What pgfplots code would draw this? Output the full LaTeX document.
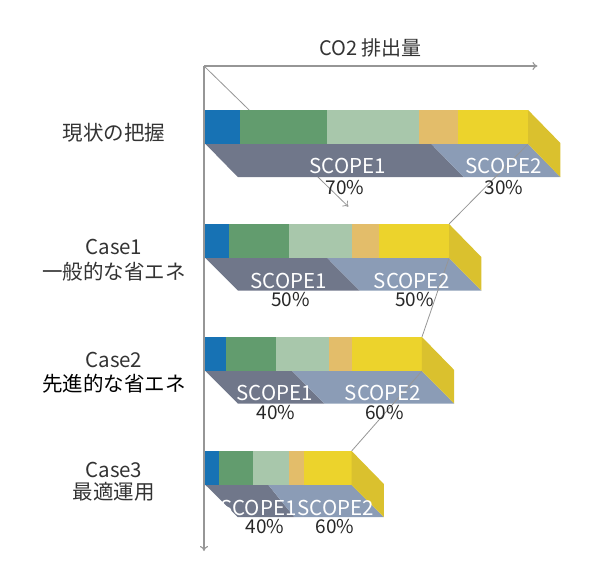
\documentclass[border=0pt]{standalone}
\usepackage{pgfplots}
\pgfplotsset{compat=1.18}
\usepackage{fontspec}
\setmainfont{Noto Sans CJK JP}
\usetikzlibrary{arrows.meta}
\definecolor{cblue}{RGB}{23,114,180}
\definecolor{cgreen}{RGB}{98,156,110}
\definecolor{clgreen}{RGB}{168,199,171}
\definecolor{corange}{RGB}{227,189,106}
\definecolor{cyellow}{RGB}{236,211,44}
\definecolor{cyside}{RGB}{218,193,46}
\definecolor{cscopea}{RGB}{112,119,138}
\definecolor{cscopeb}{RGB}{139,156,182}
\definecolor{cline}{RGB}{150,150,150}
\definecolor{ctext}{RGB}{51,51,51}
\begin{document}
\begin{tikzpicture}
\begin{axis}[width=597pt,height=582pt,scale only axis,hide axis,clip=false,
  xmin=-63.7,xmax=121.36,ymin=0,ymax=582,y dir=reverse]
\addplot[draw=none] coordinates {(-63.7,0) (121.36,582)};
% axes
\addplot[cline,line width=1.1pt,-{To[length=5pt,width=8pt]}] coordinates {(-0.46,66) (102.9,66)};
\addplot[cline,line width=1.1pt,-{To[length=5pt,width=8pt]}] coordinates {(-0.46,66) (-0.46,551)};
% origin line
\addplot[cline,line width=0.8pt,-{To[length=5pt,width=8pt]}] coordinates {(-0.46,66) (44.3,206.7)};
% ---------- Bar 1 ----------
\addplot[fill=cblue,draw=none] coordinates {(0,110) (10.6,110) (10.6,144) (0,144)} --cycle;
\addplot[fill=cgreen,draw=none] coordinates {(10.6,110) (37.6,110) (37.6,144) (10.6,144)} --cycle;
\addplot[fill=clgreen,draw=none] coordinates {(37.6,110) (66.2,110) (66.2,144) (37.6,144)} --cycle;
\addplot[fill=corange,draw=none] coordinates {(66.2,110) (78.4,110) (78.4,144) (66.2,144)} --cycle;
\addplot[fill=cyellow,draw=none] coordinates {(78.4,110) (100,110) (100,144) (78.4,144)} --cycle;
\addplot[fill=cscopea,draw=none] coordinates {(0,144) (70,144) (80,177) (10,177)} --cycle;
\addplot[fill=cscopeb,draw=none] coordinates {(70,144) (100,144) (110,177) (80,177)} --cycle;
\addplot[fill=cyside,draw=none] coordinates {(100,110) (110,143) (110,177) (100,144)} --cycle;
% ---------- Bar 2 ----------
\addplot[fill=cblue,draw=none] coordinates {(0,224) (7.3,224) (7.3,258) (0,258)} --cycle;
\addplot[fill=cgreen,draw=none] coordinates {(7.3,224) (25.9,224) (25.9,258) (7.3,258)} --cycle;
\addplot[fill=clgreen,draw=none] coordinates {(25.9,224) (45.4,224) (45.4,258) (25.9,258)} --cycle;
\addplot[fill=corange,draw=none] coordinates {(45.4,224) (53.8,224) (53.8,258) (45.4,258)} --cycle;
\addplot[fill=cyellow,draw=none] coordinates {(53.8,224) (75.5,224) (75.5,258) (53.8,258)} --cycle;
\addplot[fill=cscopea,draw=none] coordinates {(0,258) (37.75,258) (47.75,290.5) (10,290.5)} --cycle;
\addplot[fill=cscopeb,draw=none] coordinates {(37.75,258) (75.5,258) (85.5,290.5) (47.75,290.5)} --cycle;
\addplot[fill=cyside,draw=none] coordinates {(75.5,224) (85.5,257) (85.5,290.5) (75.5,258)} --cycle;
% ---------- Bar 3 ----------
\addplot[fill=cblue,draw=none] coordinates {(0,337) (6.3,337) (6.3,371) (0,371)} --cycle;
\addplot[fill=cgreen,draw=none] coordinates {(6.3,337) (22.0,337) (22.0,371) (6.3,371)} --cycle;
\addplot[fill=clgreen,draw=none] coordinates {(22.0,337) (38.3,337) (38.3,371) (22.0,371)} --cycle;
\addplot[fill=corange,draw=none] coordinates {(38.3,337) (45.4,337) (45.4,371) (38.3,371)} --cycle;
\addplot[fill=cyellow,draw=none] coordinates {(45.4,337) (67.1,337) (67.1,371) (45.4,371)} --cycle;
\addplot[fill=cscopea,draw=none] coordinates {(0,371) (26.84,371) (36.84,403.5) (10,403.5)} --cycle;
\addplot[fill=cscopeb,draw=none] coordinates {(26.84,371) (67.1,371) (77.1,403.5) (36.84,403.5)} --cycle;
\addplot[fill=cyside,draw=none] coordinates {(67.1,337) (77.1,370) (77.1,403.5) (67.1,371)} --cycle;
% ---------- Bar 4 ----------
\addplot[fill=cblue,draw=none] coordinates {(0,451) (4.1,451) (4.1,485) (0,485)} --cycle;
\addplot[fill=cgreen,draw=none] coordinates {(4.1,451) (14.6,451) (14.6,485) (4.1,485)} --cycle;
\addplot[fill=clgreen,draw=none] coordinates {(14.6,451) (25.9,451) (25.9,485) (14.6,485)} --cycle;
\addplot[fill=corange,draw=none] coordinates {(25.9,451) (30.6,451) (30.6,485) (25.9,485)} --cycle;
\addplot[fill=cyellow,draw=none] coordinates {(30.6,451) (45.3,451) (45.3,485) (30.6,485)} --cycle;
\addplot[fill=cscopea,draw=none] coordinates {(0,485) (19.5,485) (27.5,517) (10,517)} --cycle;
\addplot[fill=cscopeb,draw=none] coordinates {(19.5,485) (45.3,485) (55.3,517) (27.5,517)} --cycle;
\addplot[fill=cyside,draw=none] coordinates {(45.3,451) (55.3,484) (55.3,517) (45.3,485)} --cycle;
% connector zigzag
\addplot[cline,line width=0.8pt] coordinates {(100,144) (75.5,224)};
\addplot[cline,line width=0.8pt] coordinates {(75.5,258) (67.1,337)};
\addplot[cline,line width=0.8pt] coordinates {(67.1,371) (45.3,451)};
% title
\node[ctext,font=\fontsize{20}{24}\selectfont] at (axis cs:51.2,48) {CO2 排出量};
% category labels
\node[ctext,font=\fontsize{20.5}{24}\selectfont] at (axis cs:-28.4,132.5) {現状の把握};
\node[ctext,font=\fontsize{20.5}{24}\selectfont] at (axis cs:-28.4,246.5) {Case1};
\node[ctext,font=\fontsize{20.5}{24}\selectfont] at (axis cs:-28.4,271.5) {一般的な省エネ};
\node[ctext,font=\fontsize{20.5}{24}\selectfont] at (axis cs:-28.4,360) {Case2};
\node[black,font=\fontsize{20.5}{24}\selectfont] at (axis cs:-28.4,383.5) {先進的な省エネ};
\node[ctext,font=\fontsize{20.5}{24}\selectfont] at (axis cs:-28.4,469.5) {Case3};
\node[ctext,font=\fontsize{20.5}{24}\selectfont] at (axis cs:-28.4,491.5) {最適運用};
% scope labels
\tikzset{sc/.style={white,anchor=base,inner sep=0pt,font=\fontsize{20.5}{24}\selectfont},
         pc/.style={black!85,anchor=base,inner sep=0pt,font=\fontsize{19}{24}\selectfont}}
\node[sc] at (axis cs:44.1,173.3) {SCOPE1};
\node[pc] at (axis cs:43.2,194) {70\%};
\node[sc] at (axis cs:92.4,173.3) {SCOPE2};
\node[pc] at (axis cs:92.5,194) {30\%};
\node[sc] at (axis cs:25.8,288) {SCOPE1};
\node[pc] at (axis cs:26.4,306.7) {50\%};
\node[sc] at (axis cs:64.0,288) {SCOPE2};
\node[pc] at (axis cs:64.8,306.7) {50\%};
\node[sc] at (axis cs:21.5,400) {SCOPE1};
\node[pc] at (axis cs:21.9,419) {40\%};
\node[sc] at (axis cs:55.0,400) {SCOPE2};
\node[pc] at (axis cs:55.5,419) {60\%};
\node[sc] at (axis cs:16.4,515) {SCOPE1};
\node[pc] at (axis cs:18.4,533) {40\%};
\node[sc] at (axis cs:40.4,515) {SCOPE2};
\node[pc] at (axis cs:40.1,533) {60\%};
\end{axis}
\end{tikzpicture}
\end{document}
